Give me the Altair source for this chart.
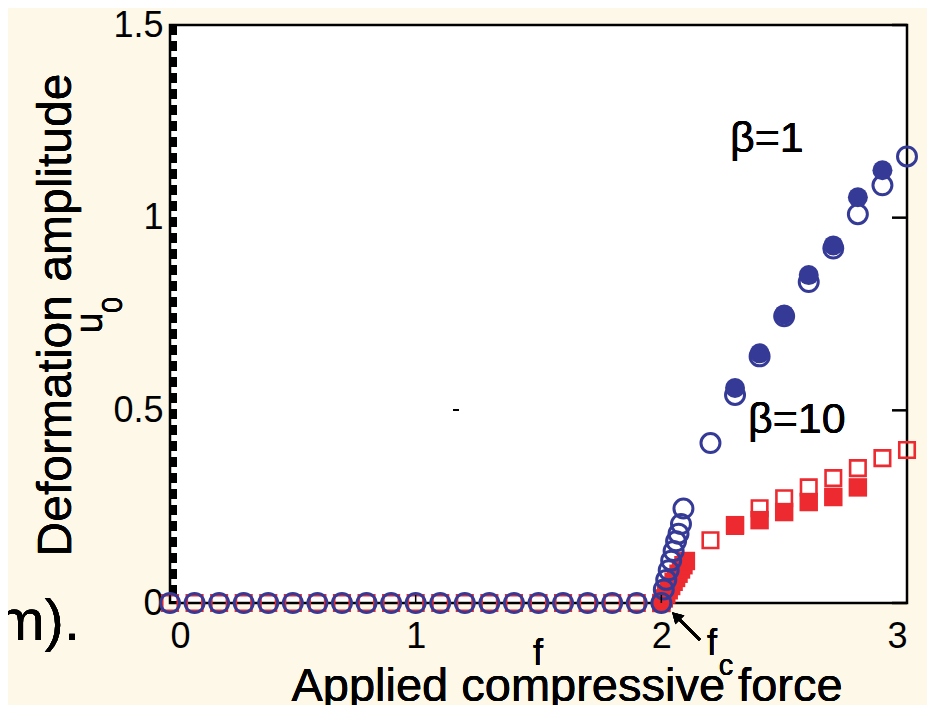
import altair as alt
import pandas as pd

# ---------------- data ----------------
# beta = 1, open circles
b_open_x = [0.0, 0.1, 0.2, 0.3, 0.4, 0.5, 0.6, 0.7, 0.8, 0.9, 1.0,
            1.1, 1.2, 1.3, 1.4, 1.5, 1.6, 1.7, 1.8, 1.9, 2.0,
            2.01, 2.02, 2.03, 2.04, 2.05, 2.06, 2.07, 2.08, 2.09,
            2.2, 2.3, 2.4, 2.5, 2.6, 2.7, 2.8, 2.9, 3.0]
b_open_y = [0.0] * 21 + [0.035, 0.06, 0.085, 0.11, 0.135, 0.16, 0.18, 0.205, 0.245,
                          0.415, 0.54, 0.64, 0.744, 0.833, 0.92, 1.009, 1.084, 1.159]
# beta = 1, filled circles
b_fill_x = [2.3, 2.4, 2.5, 2.6, 2.7, 2.8, 2.9]
b_fill_y = [0.558, 0.648, 0.749, 0.851, 0.928, 1.053, 1.123]
# beta = 10, open squares
r_open_x = [0.0, 0.1, 0.2, 0.3, 0.4, 0.5, 0.6, 0.7, 0.8, 0.9, 1.0,
            1.1, 1.2, 1.3, 1.4, 1.5, 1.6, 1.7, 1.8, 1.9, 2.0,
            2.2, 2.3, 2.4, 2.5, 2.6, 2.7, 2.8, 2.9, 3.0]
r_open_y = [0.0] * 21 + [0.163, 0.2, 0.246, 0.272, 0.3, 0.324, 0.35, 0.376, 0.397]
# beta = 10, filled squares
r_fill_x = [2.0, 2.01, 2.02, 2.03, 2.04, 2.05, 2.06, 2.07, 2.08, 2.09, 2.1,
            2.3, 2.4, 2.5, 2.6, 2.7, 2.8]
r_fill_y = [0.0, 0.012, 0.022, 0.033, 0.044, 0.055, 0.065, 0.076, 0.087, 0.098, 0.109,
            0.202, 0.215, 0.236, 0.262, 0.275, 0.30]

x_ticks = [0, 1, 2, 3]
y_ticks = [0, 0.5, 1, 1.5]

BLUE = "#353a96"
RED = "#ec2a30"
W, H = 737, 578
FONT = "Liberation Sans"

xs = alt.Scale(domain=[0, 3], nice=False, zero=False)
ys = alt.Scale(domain=[0, 1.5], nice=False, zero=False)
xaxis = alt.Axis(values=x_ticks, title=None, domain=False, ticks=False, grid=False,
                 labelFontSize=36, labelPadding=16, labelColor="black", format="~g",
                 labelFont=FONT)
yaxis = alt.Axis(values=y_ticks, title=None, domain=False, ticks=False, grid=False,
                 labelFontSize=36, labelPadding=7, labelColor="black", format="~g",
                 labelFont=FONT, labelBaseline="middle")
X = alt.X("x:Q", scale=xs, axis=xaxis)
Y = alt.Y("y:Q", scale=ys, axis=yaxis)

df_bo = pd.DataFrame({"x": b_open_x, "y": b_open_y})
df_bf = pd.DataFrame({"x": b_fill_x, "y": b_fill_y})
df_ro = pd.DataFrame({"x": r_open_x, "y": r_open_y})
df_rf = pd.DataFrame({"x": r_fill_x, "y": r_fill_y})

# left spine (dashed thick band)
left_dash = alt.Chart(df_bo).mark_rule(color="black", strokeWidth=5, strokeDash=[10, 6]).encode(
    x=alt.value(4), y=alt.value(0), y2=alt.value(H))

red_open = alt.Chart(df_ro).mark_point(shape="square", filled=False, color=RED,
                                       strokeWidth=2.6, size=240, opacity=1).encode(x=X, y=Y)
red_fill = alt.Chart(df_rf).mark_point(shape="square", filled=True, color=RED,
                                       size=340, opacity=1).encode(x=X, y=Y)
blue_open = alt.Chart(df_bo).mark_point(shape="circle", filled=False, color=BLUE,
                                        strokeWidth=3, size=360, opacity=1).encode(x=X, y=Y)
blue_fill = alt.Chart(df_bf).mark_point(shape="circle", filled=True, color=BLUE,
                                        size=400, opacity=1).encode(x=X, y=Y)

# inward ticks
df_xt = pd.DataFrame({"x": x_ticks})
df_yt = pd.DataFrame({"y": y_ticks})
xt = alt.Chart(df_xt).mark_rule(color="black", strokeWidth=1.5).encode(
    x=X, y=alt.value(H - 8), y2=alt.value(H))
yt = alt.Chart(df_yt).mark_rule(color="black", strokeWidth=2.5).encode(
    y=Y, x=alt.value(W - 15), x2=alt.value(W))

# arrow to f_c
arrow_line = alt.Chart(df_xt).mark_rule(color="black", strokeWidth=3).encode(
    x=alt.value(530), y=alt.value(615), x2=alt.value(507), y2=alt.value(592))
arrow_head = alt.Chart(df_xt).mark_point(shape="triangle-up", filled=True, color="black",
                                         size=160, angle=315, opacity=1).encode(
    x=alt.value(506), y=alt.value(591))

# tiny stray dash in the original
stray = alt.Chart(df_xt).mark_rule(color="black", strokeWidth=1.5).encode(
    x=alt.value(283), x2=alt.value(289), y=alt.value(385))


def txt(s, x, y, size, angle=0, align="center", baseline="alphabetic"):
    return alt.Chart(df_xt).mark_text(text=s, font=FONT, fontSize=size, color="black",
                                      angle=angle, align=align, baseline=baseline).encode(
        x=alt.value(x), y=alt.value(y))


texts = [
    txt("Deformation amplitude", -99, 290, 48, angle=270),
    txt("u", -68, 298, 38, angle=270),
    txt("0", -48, 280, 29, angle=270),
    txt("Applied compressive force", 397, 676, 47),
    txt("f", 368, 640, 36),
    txt("f", 542, 630, 36),
    txt("c", 556, 650, 29),
    txt("β=1", 560, 127, 43, align="left"),
    txt("β=10", 578, 408, 43, align="left"),
    txt("m).", -90, 615, 58, align="right"),
]

chart = alt.layer(
    left_dash, red_open, red_fill, blue_open, blue_fill, xt, yt,
    arrow_line, arrow_head, stray, *texts
).properties(
    width=W, height=H,
    padding={"left": 162, "top": 17, "right": 20, "bottom": 102},
    autosize=alt.AutoSizeParams(type="none"),
    background="#fdf8e7",
).configure(
    font=FONT,
    view=alt.ViewConfig(fill="white", stroke="black", strokeWidth=2.5),
)

chart.save("out.html", embed_options={"renderer": "svg", "actions": False})
